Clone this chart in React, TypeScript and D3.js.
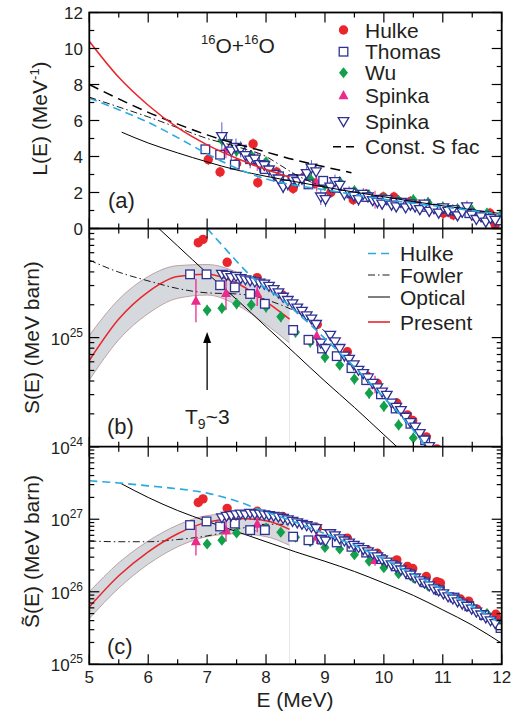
import React from "react";
import * as d3 from "d3";

// ---------------- data ----------------
const xMajor = [5, 6, 7, 8, 9, 10, 11, 12];
const xMinor = [5.5, 6.5, 7.5, 8.5, 9.5, 10.5, 11.5];
const aLabels = [0, 2, 4, 6, 8, 10, 12];
const bLabels = [24, 25];
const cLabels = [25, 26, 27];

// Spinka (open down triangles), shared energies
const spinkaE = [
  7.25, 7.33, 7.41, 7.49, 7.57, 7.65, 7.73, 7.81, 7.89, 7.97,
  8.05, 8.13, 8.21, 8.29, 8.37, 8.45, 8.53, 8.61, 8.69, 8.77,
  8.85, 8.93, 9.01, 9.09, 9.17, 9.25, 9.33, 9.41, 9.49, 9.57,
  9.65, 9.73, 9.81, 9.89, 9.97, 10.05, 10.13, 10.21, 10.29, 10.37,
  10.45, 10.53, 10.61, 10.69, 10.77, 10.85, 10.93, 11.01, 11.09, 11.17,
  11.25, 11.33, 11.41, 11.49, 11.57, 11.65, 11.73, 11.81, 11.89,
];
const spinkaLA = [
  5.1, 4.7, 4.3, 4.5, 4.4, 4.05, 3.8, 3.85, 3.55, 3.5,
  3.25, 3.0, 2.75, 2.3, 2.45, 2.7, 2.6, 2.75, 3.05, 3.35,
  3.15, 1.75, 1.6, 2.3, 2.6, 2.4, 1.9, 2.0, 1.8, 1.6,
  1.9, 1.75, 1.55, 1.45, 1.35, 1.6, 1.3, 1.2, 1.45, 1.15,
  1.3, 1.2, 1.05, 1.35, 0.95, 1.1, 0.85, 1.15, 0.95, 1.05,
  0.7, 0.9, 1.2, 0.75, 0.5, 0.65, 0.35, 0.55, 0.45,
];
const spinkaErrA = [
  0.8, 0.55, 0.5, 0.5, 0.45, 0.45, 0.45, 0.4, 0.45, 0.4,
  0.4, 0.4, 0.35, 0.35, 0.35, 0.4, 0.35, 0.35, 0.4, 0.45,
  0.4, 0.45, 0.4, 0.35, 0.4, 0.35, 0.35, 0.35, 0.3, 0.35,
  0.35, 0.3, 0.3, 0.35, 0.3, 0.3, 0.3, 0.3, 0.3, 0.3,
  0.3, 0.3, 0.3, 0.3, 0.3, 0.3, 0.3, 0.3, 0.3, 0.3,
  0.3, 0.3, 0.35, 0.3, 0.3, 0.3, 0.3, 0.3, 0.3,
];
const spinkaB = [
  25.58, 25.57, 25.55, 25.56, 25.54, 25.53, 25.52, 25.51, 25.5, 25.49,
  25.47, 25.44, 25.41, 25.37, 25.34, 25.31, 25.27, 25.24, 25.2, 25.17,
  25.12, 24.95, 24.9, 25.02, 24.96, 24.9, 24.83, 24.8, 24.75, 24.7,
  24.67, 24.63, 24.58, 24.54, 24.5, 24.47, 24.4, 24.36, 24.33, 24.27,
  24.22, 24.18, 24.12, 24.06, 24.0, 23.94, 23.88, 23.8, 23.74, 23.68,
  23.6, 23.55, 23.48, 23.4, 23.34, 23.26, 23.2, 23.12, 23.05,
];
const spinkaC = [
  27.02, 27.04, 27.05, 27.06, 27.07, 27.06, 27.08, 27.07, 27.07, 27.06,
  27.05, 27.04, 27.03, 27.01, 26.99, 26.97, 26.95, 26.93, 26.91, 26.89,
  26.87, 26.72, 26.7, 26.8, 26.77, 26.73, 26.7, 26.67, 26.64, 26.61,
  26.58, 26.55, 26.52, 26.48, 26.44, 26.41, 26.37, 26.34, 26.3, 26.26,
  26.23, 26.19, 26.15, 26.12, 26.08, 26.04, 26.01, 25.97, 25.93, 25.9,
  25.86, 25.83, 25.8, 25.76, 25.72, 25.68, 25.64, 25.6, 25.56,
];

// Hulke (red circles)
const hulkeEA = [7.02, 7.22, 7.5, 7.78, 7.86, 8.18, 8.46, 8.65, 8.83, 9.1, 9.48, 9.7, 9.99, 10.17, 10.45, 10.6, 11.01, 11.18, 11.55, 11.8, 11.89];
const hulkeLA = [3.83, 3.14, 3.6, 4.7, 2.55, 3.14, 2.22, 2.87, 2.5, 2.0, 1.6, 1.9, 1.75, 1.75, 1.5, 1.3, 0.85, 0.75, 0.65, 0.85, 0.2];
const hulkeE = [6.85, 6.93, 7.34, 7.85, 8.28, 8.87, 9.38, 9.71, 9.89, 10.22, 10.4, 10.49, 10.72, 10.9, 10.96, 11.3, 11.44, 11.58, 11.9, 11.97];
const hulkeB = [25.87, 25.9, 25.69, 25.55, 25.39, 25.12, 24.87, 24.65, 24.58, 24.4, 24.29, 24.24, 24.09, 23.98, 23.94, 23.7, 23.6, 23.5, 23.3, 23.25];
const hulkeC = [27.23, 27.28, 27.15, 27.11, 27.04, 26.88, 26.74, 26.58, 26.53, 26.44, 26.35, 26.32, 26.21, 26.14, 26.12, 25.9, 25.87, 25.76, 25.69, 25.61];

// Thomas (open squares)
const thomasEA = [6.97, 7.22, 7.47, 7.73, 7.98, 8.22, 8.46, 8.72, 8.97, 9.2, 9.45, 9.7, 9.95, 10.2, 10.45, 10.7, 10.95, 11.2, 11.45, 11.7, 11.98];
const thomasLA = [4.4, 4.1, 3.55, 3.85, 3.3, 2.9, 2.75, 2.45, 2.65, 2.25, 1.95, 1.75, 1.6, 1.45, 1.35, 1.2, 1.1, 1.0, 0.85, 0.7, 0.45];
const thomasE = [6.71, 6.99, 7.22, 7.47, 7.73, 7.98, 8.46, 8.72, 8.95, 9.2, 9.45, 9.7, 9.95, 10.2, 10.45, 10.7, 10.95, 11.2, 11.45, 11.7, 11.98];
const thomasB = [25.58, 25.58, 25.48, 25.46, 25.4, 25.31, 25.07, 24.98, 24.9, 24.83, 24.72, 24.61, 24.48, 24.35, 24.21, 24.06, 23.92, 23.78, 23.64, 23.5, 23.34];
const thomasC = [26.92, 26.97, 26.9, 26.94, 26.85, 26.85, 26.76, 26.71, 26.72, 26.68, 26.62, 26.54, 26.45, 26.35, 26.24, 26.13, 26.02, 25.92, 25.8, 25.68, 25.5];

// Wu (green diamonds)
const wuEA = [7.25, 7.5, 7.75, 8.0, 8.25, 8.5, 8.75, 9.0, 9.25, 9.5, 9.75, 10.0, 10.25, 10.5, 10.75, 11.0, 11.25, 11.5, 11.75, 12.0];
const wuLA = [4.9, 4.3, 4.05, 3.7, 2.9, 2.6, 2.75, 2.4, 2.6, 2.1, 1.85, 1.7, 1.55, 1.6, 1.45, 1.2, 1.1, 1.0, 0.85, 0.8];
const wuE = [7.0, 7.25, 7.5, 7.75, 8.0, 8.25, 8.5, 8.75, 9.0, 9.25, 9.5, 9.75, 10.0, 10.25, 10.5, 10.75, 11.0, 11.25, 11.5, 11.75, 12.0];
const wuB = [25.25, 25.27, 25.31, 25.3, 25.28, 25.19, 25.05, 24.96, 24.82, 24.75, 24.62, 24.49, 24.37, 24.2, 24.08, 23.95, 23.83, 23.7, 23.58, 23.45, 23.32];
const wuC = [26.66, 26.71, 26.81, 26.84, 26.88, 26.82, 26.75, 26.69, 26.61, 26.59, 26.51, 26.42, 26.33, 26.25, 26.19, 26.08, 25.99, 25.9, 25.8, 25.7, 25.57];
const wuLogErr = 0.05;

// Spinka (filled magenta up triangles)
const pinkEA = [7.32, 7.85, 8.86, 9.85];
const pinkLA = [4.4, 3.7, 2.55, 1.6];
const pinkE = [6.81, 7.32, 7.85, 8.86, 9.85];
const pinkB = [25.34, 25.41, 25.41, 25.02, 24.57];
const pinkC = [26.7, 26.85, 26.94, 26.76, 26.44];
const pinkLogErr = [0.2, 0.16, 0.12, 0.1, 0.08];

// Curves, panel (a)  [E, L]
const presentA = [[5, 10.4], [5.5, 8.4], [6, 6.85], [6.5, 5.6], [7, 4.65], [7.5, 3.9], [8, 3.28], [8.4, 2.85]];
const constSA = [[5, 8.0], [5.5, 7.2], [6, 6.45], [6.5, 5.8], [7, 5.2], [7.5, 4.7], [8, 4.25], [8.5, 3.8], [9, 3.42], [9.45, 3.1]];
const fowlerA = [[5, 7.3], [5.5, 6.75], [6, 6.2], [6.5, 5.6], [7, 5.0], [7.5, 4.55], [8, 4.0], [8.25, 3.5], [8.5, 3.0], [8.75, 2.6], [9.0, 2.3]];
const hulkeFitA = [[5, 7.25], [5.5, 6.6], [6, 5.9], [6.5, 5.05], [7, 4.15], [7.5, 3.35], [8, 2.75], [8.5, 2.4], [9, 2.15], [9.5, 1.88], [10, 1.62], [10.5, 1.4], [11, 1.2], [11.5, 1.0], [12, 0.8]];
const opticalA = [[5.55, 5.35], [6, 4.75], [6.5, 4.2], [7, 3.7], [7.5, 3.25], [8, 2.9], [8.5, 2.6], [9, 2.3], [9.5, 2.02], [10, 1.76], [10.5, 1.5], [11, 1.26], [11.5, 1.04], [12, 0.82]];

// Curves, panel (b)  [E, log10 S]
const presentB = [[5, 24.79], [5.5, 25.17], [6, 25.42], [6.5, 25.56], [7, 25.58], [7.5, 25.5], [8, 25.33], [8.4, 25.17]];
const bandE = [5, 5.5, 6, 6.5, 7, 7.5, 8, 8.4];
const bandUpB = [25.02, 25.35, 25.56, 25.66, 25.67, 25.6, 25.45, 25.31];
const bandLoB = [24.61, 24.98, 25.22, 25.36, 25.39, 25.3, 25.12, 24.95];
const hulkeFitB = [[7.0, 26.0], [7.25, 25.85], [7.5, 25.7], [7.75, 25.56], [8.0, 25.45], [8.25, 25.36], [8.5, 25.24], [8.75, 25.12], [9.0, 24.99], [9.25, 24.86], [9.5, 24.73], [9.75, 24.59], [10.0, 24.45], [10.25, 24.31], [10.5, 24.15], [10.75, 23.98]];
const fowlerB = [[5, 25.71], [5.5, 25.6], [6, 25.52], [6.5, 25.45], [7, 25.41], [7.5, 25.4], [7.8, 25.38], [8.1, 25.33], [8.5, 25.24], [8.9, 25.1], [9.2, 24.96]];
const opticalB = [[6.0, 26.09], [6.5, 25.84], [7.0, 25.59], [7.5, 25.35], [8.0, 25.1], [8.5, 24.85], [9.0, 24.6], [9.5, 24.36], [10.0, 24.11], [10.5, 23.86]];

// Curves, panel (c)  [E, log10 S~]
const presentC = [[5, 25.79], [5.5, 26.22], [6, 26.55], [6.5, 26.8], [7, 26.96], [7.5, 27.01], [8, 26.98], [8.4, 26.86]];
const bandUpC = [26.0, 26.4, 26.7, 26.92, 27.05, 27.08, 27.06, 26.99];
const bandLoC = [25.63, 26.05, 26.38, 26.62, 26.76, 26.8, 26.76, 26.64];
const hulkeFitC = [[5, 27.53], [5.5, 27.5], [6, 27.46], [6.5, 27.42], [7, 27.36], [7.5, 27.25], [8, 27.1], [8.5, 26.96], [9, 26.8], [9.5, 26.64], [10, 26.45], [10.5, 26.24], [11, 26.03], [11.5, 25.8], [12, 25.56]];
const fowlerC = [[5, 26.7], [5.5, 26.69], [6, 26.69], [6.5, 26.72], [7, 26.77], [7.5, 26.86], [8, 26.93], [8.5, 26.93], [9, 26.85], [9.2, 26.8]];
const opticalC = [[5.52, 27.5], [6, 27.3], [6.5, 27.12], [7, 26.97], [7.5, 26.83], [8, 26.69], [8.5, 26.55], [9, 26.42], [9.5, 26.28], [10, 26.12], [10.5, 25.95], [11, 25.75], [11.5, 25.54], [12, 25.29]];

const bandEdgeE = 8.4;

// ---------------- styling ----------------
const FONT = "'Liberation Sans', Arial, Helvetica, sans-serif";
const RED = "#e8262b";
const BLUE = "#2e3192";
const BLUE_ERR = "#5a5fc0";
const GREEN = "#12a04a";
const PINK = "#ec2a8c";
const CYAN = "#29abe2";
const BAND = "#d5d8dd";
const BAND_EDGE = "#b48e8e";

const X0 = 89.3, X1 = 501.7;
const TA = 12.5, BA = 228.5, BB = 446.7, BC = 664.3;

const TRI_DOWN = "M0,5 L-5.3,-4 L5.3,-4 Z";
const TRI_UP = "M0,-5 L-5,4.2 L5,4.2 Z";
const DIAMOND = "M0,-5.5 L4.5,0 L0,5.5 L-4.5,0 Z";

export default function App() {
  const x = d3.scaleLinear().domain([5, 12]).range([X0, X1]);
  const ya = d3.scaleLinear().domain([0, 12]).range([BA, TA]);
  const yb = d3.scaleLog().domain([1e24, 1e26]).range([BB, BA]);
  const yc = d3.scaleLog().domain([1e25, 1e28]).range([BC, BB]);
  const pa = (v: number) => ya(v);
  const pb = (v: number) => yb(Math.pow(10, v));
  const pc = (v: number) => yc(Math.pow(10, v));

  const mkLine = (fy: (v: number) => number) =>
    d3.line<number[]>().x((d) => x(d[0])).y((d) => fy(d[1])).curve(d3.curveMonotoneX);
  const la = mkLine(pa), lb = mkLine(pb), lc = mkLine(pc);

  const bandArea = (fy: (v: number) => number, up: number[], lo: number[]) =>
    d3.area<number>()
      .x((_, i) => x(bandE[i]))
      .y0((_, i) => fy(lo[i]))
      .y1((_, i) => fy(up[i]))
      .curve(d3.curveMonotoneX)(bandE.map((e) => e)) as string;
  const bandEdge = (fy: (v: number) => number, arr: number[]) =>
    d3.line<number>().x((_, i) => x(bandE[i])).y((_, i) => fy(arr[i])).curve(d3.curveMonotoneX)(bandE) as string;

  // ticks
  const xTicksFor = (top: number, bot: number, key: string) => (
    <g key={key} stroke="#000" strokeWidth={1.2}>
      {xMajor.map((e) => (
        <g key={"M" + e}>
          <line x1={x(e)} x2={x(e)} y1={top} y2={top + 10} />
          <line x1={x(e)} x2={x(e)} y1={bot} y2={bot - 10} />
        </g>
      ))}
      {xMinor.map((e) => (
        <g key={"m" + e}>
          <line x1={x(e)} x2={x(e)} y1={top} y2={top + 5} />
          <line x1={x(e)} x2={x(e)} y1={bot} y2={bot - 5} />
        </g>
      ))}
    </g>
  );
  const yTick = (y: number, major: boolean, key: string) => {
    const len = major ? 10 : 5;
    return (
      <g key={key} stroke="#000" strokeWidth={1.2}>
        <line x1={X0} x2={X0 + len} y1={y} y2={y} />
        <line x1={X1} x2={X1 - len} y1={y} y2={y} />
      </g>
    );
  };

  const aTicks = ya.ticks(12).map((v) => yTick(ya(v), v % 2 === 0, "a" + v));
  const logTicks = (s: d3.ScaleLogarithmic<number, number>, k: string) =>
    s.ticks().map((v, i) => {
      const lg = Math.log10(v);
      return yTick(s(v), Math.abs(lg - Math.round(lg)) < 1e-6, k + i);
    });

  const circle = (cx: number, cy: number, k: string) => <circle key={k} cx={cx} cy={cy} r={4.7} fill={RED} />;
  const square = (cx: number, cy: number, k: string) => (
    <rect key={k} x={cx - 4.3} y={cy - 4.3} width={8.6} height={8.6} fill="#fff" stroke={BLUE} strokeWidth={1.3} />
  );
  const triDown = (cx: number, cy: number, k: string) => (
    <path key={k} d={TRI_DOWN} transform={`translate(${cx},${cy})`} fill="#fff" stroke={BLUE} strokeWidth={1.3} />
  );
  const diamond = (cx: number, cy: number, k: string) => (
    <path key={k} d={DIAMOND} transform={`translate(${cx},${cy})`} fill={GREEN} />
  );
  const triUp = (cx: number, cy: number, k: string) => (
    <path key={k} d={TRI_UP} transform={`translate(${cx},${cy})`} fill={PINK} />
  );

  const textStyle = { fontFamily: FONT, fill: "#231f20" } as React.CSSProperties;

  const logLabel = (s: (v: number) => number, d: number, k: string) => (
    <text key={k} x={83} y={s(d) + 7} textAnchor="end" fontSize={17} style={textStyle}>
      10<tspan dy={-8} fontSize={12}>{d}</tspan>
    </text>
  );

  return (
    <svg width={525} height={715} style={{ position: "absolute", left: 0, top: 0, background: "#fff" }}>
      <defs>
        <clipPath id="ca"><rect x={X0} y={TA} width={X1 - X0} height={BA - TA} /></clipPath>
        <clipPath id="cb"><rect x={X0} y={BA} width={X1 - X0} height={BB - BA} /></clipPath>
        <clipPath id="cc"><rect x={X0} y={BB} width={X1 - X0} height={BC - BB} /></clipPath>
      </defs>
      <rect x={0} y={0} width={525} height={715} fill="#fff" />

      {/* ---------- panel (a) ---------- */}
      <g clipPath="url(#ca)">
        {/* error bars */}
        {spinkaE.map((e, i) => (
          <line key={"sea" + i} x1={x(e)} x2={x(e)} y1={ya(spinkaLA[i] - spinkaErrA[i])} y2={ya(spinkaLA[i] + spinkaErrA[i])} stroke={BLUE_ERR} strokeWidth={1} />
        ))}
        {wuEA.map((e, i) => (
          <line key={"wea" + i} x1={x(e)} x2={x(e)} y1={ya(wuLA[i] - 0.3)} y2={ya(wuLA[i] + 0.3)} stroke={GREEN} strokeWidth={1} />
        ))}
        {hulkeEA.map((e, i) => (
          <line key={"hea" + i} x1={x(e)} x2={x(e)} y1={ya(hulkeLA[i] - 0.3)} y2={ya(hulkeLA[i] + 0.3)} stroke={RED} strokeWidth={1} />
        ))}
        {pinkEA.map((e, i) => (
          <line key={"pea" + i} x1={x(e)} x2={x(e)} y1={ya(pinkLA[i] - 0.5)} y2={ya(pinkLA[i] + 0.5)} stroke={PINK} strokeWidth={1} />
        ))}
        {hulkeEA.map((e, i) => circle(x(e), ya(hulkeLA[i]), "ha" + i))}
        {wuEA.map((e, i) => diamond(x(e), ya(wuLA[i]), "wa" + i))}
        {pinkEA.map((e, i) => triUp(x(e), ya(pinkLA[i]), "pa" + i))}
        {thomasEA.map((e, i) => square(x(e), ya(thomasLA[i]), "ta" + i))}
        {spinkaE.map((e, i) => triDown(x(e), ya(spinkaLA[i]), "sa" + i))}

        <path d={la(opticalA) as string} fill="none" stroke="#000" strokeWidth={1} />
        <path d={la(hulkeFitA) as string} fill="none" stroke={CYAN} strokeWidth={1.6} strokeDasharray="8,5" />
        <path d={la(fowlerA) as string} fill="none" stroke="#000" strokeWidth={0.9} strokeDasharray="7,3,1.5,3" />
        <path d={la(constSA) as string} fill="none" stroke="#000" strokeWidth={1.5} strokeDasharray="10,6" />
        <path d={la(presentA) as string} fill="none" stroke={RED} strokeWidth={1.5} />
      </g>

      {/* ---------- panel (b) ---------- */}
      <g clipPath="url(#cb)">
        <path d={bandArea(pb, bandUpB, bandLoB)} fill={BAND} />
        <path d={bandEdge(pb, bandUpB)} fill="none" stroke={BAND_EDGE} strokeWidth={0.8} />
        <path d={bandEdge(pb, bandLoB)} fill="none" stroke={BAND_EDGE} strokeWidth={0.8} />
        <line x1={x(bandEdgeE)} x2={x(bandEdgeE)} y1={pb(bandLoB[bandLoB.length - 1])} y2={BB} stroke="#e6e6e6" strokeWidth={1} />
        <path d={lb(opticalB) as string} fill="none" stroke="#000" strokeWidth={1} />
        <path d={lb(fowlerB) as string} fill="none" stroke="#000" strokeWidth={0.9} strokeDasharray="7,3,1.5,3" />
        <path d={lb(presentB) as string} fill="none" stroke={RED} strokeWidth={1.5} />

        {pinkE.map((e, i) => (
          <line key={"peb" + i} x1={x(e)} x2={x(e)} y1={pb(pinkB[i] - pinkLogErr[i])} y2={pb(pinkB[i] + pinkLogErr[i])} stroke={PINK} strokeWidth={1.3} />
        ))}
        {wuE.map((e, i) => (
          <line key={"web" + i} x1={x(e)} x2={x(e)} y1={pb(wuB[i] - wuLogErr)} y2={pb(wuB[i] + wuLogErr)} stroke={GREEN} strokeWidth={1.2} />
        ))}
        {hulkeE.map((e, i) => circle(x(e), pb(hulkeB[i]), "hb" + i))}
        {wuE.map((e, i) => diamond(x(e), pb(wuB[i]), "wb" + i))}
        {pinkE.map((e, i) => triUp(x(e), pb(pinkB[i]), "pb" + i))}
        {thomasE.map((e, i) => square(x(e), pb(thomasB[i]), "tb" + i))}
        {spinkaE.map((e, i) => triDown(x(e), pb(spinkaB[i]), "sb" + i))}
        <path d={lb(hulkeFitB) as string} fill="none" stroke={CYAN} strokeWidth={1.6} strokeDasharray="8,5" />
      </g>

      {/* ---------- panel (c) ---------- */}
      <g clipPath="url(#cc)">
        <path d={bandArea(pc, bandUpC, bandLoC)} fill={BAND} />
        <path d={bandEdge(pc, bandUpC)} fill="none" stroke={BAND_EDGE} strokeWidth={0.8} />
        <path d={bandEdge(pc, bandLoC)} fill="none" stroke={BAND_EDGE} strokeWidth={0.8} />
        <line x1={x(bandEdgeE)} x2={x(bandEdgeE)} y1={pc(bandLoC[bandLoC.length - 1])} y2={BC} stroke="#e6e6e6" strokeWidth={1} />
        <path d={lc(opticalC) as string} fill="none" stroke="#000" strokeWidth={1} />
        <path d={lc(fowlerC) as string} fill="none" stroke="#000" strokeWidth={0.9} strokeDasharray="7,3,1.5,3" />
        <path d={lc(presentC) as string} fill="none" stroke={RED} strokeWidth={1.5} />

        {pinkE.map((e, i) => (
          <line key={"pec" + i} x1={x(e)} x2={x(e)} y1={pc(pinkC[i] - pinkLogErr[i])} y2={pc(pinkC[i] + pinkLogErr[i])} stroke={PINK} strokeWidth={1.3} />
        ))}
        {wuE.map((e, i) => (
          <line key={"wec" + i} x1={x(e)} x2={x(e)} y1={pc(wuC[i] - wuLogErr)} y2={pc(wuC[i] + wuLogErr)} stroke={GREEN} strokeWidth={1.2} />
        ))}
        {hulkeE.map((e, i) => circle(x(e), pc(hulkeC[i]), "hc" + i))}
        {wuE.map((e, i) => diamond(x(e), pc(wuC[i]), "wc" + i))}
        {pinkE.map((e, i) => triUp(x(e), pc(pinkC[i]), "pc" + i))}
        {thomasE.map((e, i) => square(x(e), pc(thomasC[i]), "tc" + i))}
        {spinkaE.map((e, i) => triDown(x(e), pc(spinkaC[i]), "sc" + i))}
        <path d={lc(hulkeFitC) as string} fill="none" stroke={CYAN} strokeWidth={1.6} strokeDasharray="8,5" />
      </g>

      {/* ---------- ticks ---------- */}
      {xTicksFor(TA, BA, "xa")}
      {xTicksFor(BA, BB, "xb")}
      {xTicksFor(BB, BC, "xc")}
      {aTicks}
      {logTicks(yb, "b")}
      {logTicks(yc, "c")}

      {/* frames */}
      <rect x={X0} y={TA} width={X1 - X0} height={BC - TA} fill="none" stroke="#000" strokeWidth={1.8} />
      <line x1={X0} x2={X1} y1={BA} y2={BA} stroke="#000" strokeWidth={1.8} />
      <line x1={X0} x2={X1} y1={BB} y2={BB} stroke="#000" strokeWidth={1.8} />

      {/* tick labels */}
      {aLabels.map((v) => (
        <text key={"al" + v} x={83} y={ya(v) + 6} textAnchor="end" fontSize={17} style={textStyle}>{v}</text>
      ))}
      {bLabels.map((d) => logLabel(pb, d, "bl" + d))}
      {cLabels.map((d) => logLabel(pc, d, "cl" + d))}
      {xMajor.map((e) => (
        <text key={"xl" + e} x={x(e)} y={683} textAnchor="middle" fontSize={17} style={textStyle}>{e}</text>
      ))}

      {/* axis titles */}
      <text x={295} y={707} textAnchor="middle" fontSize={21} style={textStyle}>E (MeV)</text>
      <text transform={`translate(47,${(TA + BA) / 2 - 2}) rotate(-90)`} textAnchor="middle" fontSize={21} style={textStyle}>
        L(E) (MeV<tspan dy={-8} fontSize={13}>-1</tspan><tspan dy={8}>)</tspan>
      </text>
      <text transform={`translate(39,${(BA + BB) / 2}) rotate(-90)`} textAnchor="middle" fontSize={21} style={textStyle}>
        S(E) (MeV barn)
      </text>
      <text transform={`translate(39,${(BB + BC) / 2 - 4}) rotate(-90)`} textAnchor="middle" fontSize={21} style={textStyle}>
        {"S\u0303(E) (MeV barn)"}
      </text>

      {/* panel labels & annotations */}
      <text x={108} y={208} fontSize={22} style={textStyle}>(a)</text>
      <text x={107} y={434} fontSize={22} style={textStyle}>(b)</text>
      <text x={107} y={654} fontSize={22} style={textStyle}>(c)</text>

      <text x={201} y={53} fontSize={21} style={textStyle}>
        <tspan fontSize={13} dy={-9}>16</tspan>
        <tspan dy={9}>O+</tspan>
        <tspan fontSize={13} dy={-9}>16</tspan>
        <tspan dy={9}>O</tspan>
      </text>

      <text x={185} y={424} fontSize={21} style={textStyle}>
        T<tspan fontSize={14} dy={5}>9</tspan><tspan dy={-5}>~3</tspan>
      </text>
      <line x1={x(7)} x2={x(7)} y1={390} y2={340} stroke="#000" strokeWidth={1.3} />
      <path d={`M${x(7)},332 L${x(7) - 4},343 L${x(7) + 4},343 Z`} fill="#000" />

      {/* legend (a) */}
      <g>
        {circle(343.5, 30, "lg1")}
        {square(343.5, 51.7, "lg2")}
        {diamond(343.5, 72.7, "lg3")}
        {triUp(343.5, 95, "lg4")}
        {triDown(343.5, 121.7, "lg5")}
        <line x1={333} x2={355} y1={146.7} y2={146.7} stroke="#000" strokeWidth={1.5} strokeDasharray="8,5" />
        {["Hulke", "Thomas", "Wu", "Spinka", "Spinka", "Const. S fac"].map((t, i) => (
          <text key={"lt" + i} x={365} y={[30, 51.7, 72.7, 95, 121.7, 146.7][i] + 7.5} fontSize={21} style={textStyle}>{t}</text>
        ))}
      </g>

      {/* legend (b) */}
      <g>
        <line x1={368} x2={390} y1={253.5} y2={253.5} stroke={CYAN} strokeWidth={1.6} strokeDasharray="8,5" />
        <line x1={368} x2={390} y1={275} y2={275} stroke="#000" strokeWidth={0.9} strokeDasharray="7,3,1.5,3" />
        <line x1={368} x2={390} y1={297} y2={297} stroke="#000" strokeWidth={1} />
        <line x1={368} x2={390} y1={322} y2={322} stroke={RED} strokeWidth={1.6} />
        {["Hulke", "Fowler", "Optical", "Present"].map((t, i) => (
          <text key={"lb" + i} x={400} y={[253.5, 275, 297, 322][i] + 7.5} fontSize={21} style={textStyle}>{t}</text>
        ))}
      </g>
    </svg>
  );
}
